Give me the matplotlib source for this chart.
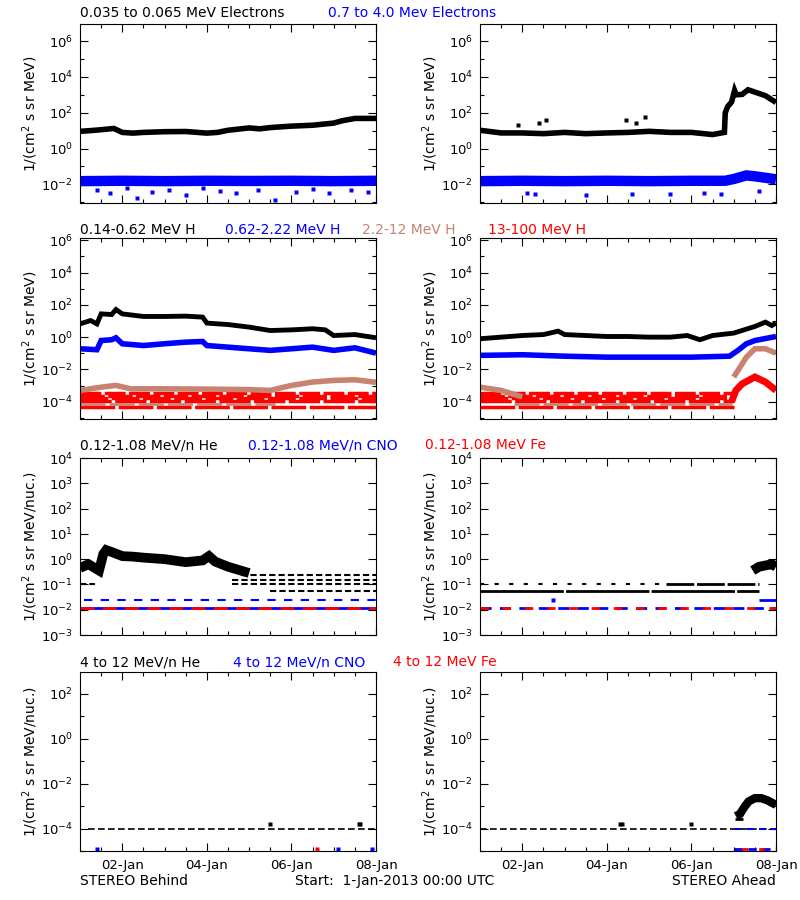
import numpy as np
import matplotlib.pyplot as plt

TAN = '#C88270'

# ---- axis / label text -------------------------------------------------
day_ticks = [1, 3, 5, 7]
day_labels = ['02-Jan', '04-Jan', '06-Jan', '08-Jan']
ylab_mev = '1/(cm$^{2}$ s sr MeV)'
ylab_nuc = '1/(cm$^{2}$ s sr MeV/nuc.)'

# ---- data (time in days since 1-Jan-2013 00:00, values as log10 flux) ----
# row 1 : electrons
e_lo_B_t = [0, 0.25, 0.5, 0.8, 1.0, 1.25, 1.5, 2, 2.5, 3, 3.25, 3.5, 4, 4.25, 4.5, 5, 5.5, 6, 6.2, 6.5, 7]
e_lo_B_v = [0.96, 1.0, 1.05, 1.12, 0.9, 0.86, 0.9, 0.94, 0.95, 0.86, 0.9, 1.02, 1.15, 1.1, 1.17, 1.25, 1.3, 1.42, 1.55, 1.68, 1.68]
e_hi_B_t = [0, 1, 2, 3, 4, 5, 6, 7]
e_hi_B_v = [-1.82, -1.8, -1.82, -1.8, -1.81, -1.8, -1.82, -1.8]
e_hi_B_out_t = [0.4, 0.7, 1.1, 1.35, 1.7, 2.1, 2.5, 2.9, 3.3, 3.7, 4.2, 4.6, 5.1, 5.5, 5.9, 6.4, 6.8]
e_hi_B_out_v = [-2.3, -2.5, -2.2, -2.75, -2.4, -2.3, -2.6, -2.2, -2.35, -2.5, -2.3, -2.85, -2.4, -2.25, -2.5, -2.3, -2.45]

e_lo_A_t = [0, 0.5, 1, 1.5, 2, 2.5, 3, 3.5, 4, 4.5, 5, 5.5, 5.78, 5.80, 5.86, 5.95, 6.02, 6.06, 6.2, 6.34, 6.5, 6.75, 7.0]
e_lo_A_v = [1.02, 0.87, 0.87, 0.83, 0.9, 0.83, 0.87, 0.9, 0.96, 0.9, 0.9, 0.78, 0.9, 2.0, 2.35, 2.6, 3.24, 3.0, 3.02, 3.28, 3.15, 2.95, 2.57]
e_lo_A_out_t = [0.9, 1.4, 1.55, 3.45, 3.7, 3.9]
e_lo_A_out_v = [1.3, 1.45, 1.6, 1.6, 1.45, 1.75]
e_hi_A_t = [0, 1, 2, 3, 4, 5, 5.8, 6.0, 6.3, 6.5, 6.8, 7]
e_hi_A_v = [-1.82, -1.8, -1.82, -1.8, -1.82, -1.8, -1.8, -1.7, -1.5, -1.55, -1.65, -1.72]
e_hi_A_out_t = [1.1, 1.3, 2.5, 3.6, 4.5, 5.3, 5.7, 6.6]
e_hi_A_out_v = [-2.5, -2.55, -2.6, -2.55, -2.55, -2.5, -2.55, -2.35]

# row 2 : protons
h1_B_t = [0, 0.25, 0.4, 0.5, 0.75, 0.85, 1.0, 1.5, 2, 2.5, 2.9, 3.0, 3.5, 4, 4.5, 5, 5.5, 5.8, 6.0, 6.5, 7]
h1_B_v = [0.82, 1.03, 0.82, 1.44, 1.4, 1.71, 1.44, 1.28, 1.28, 1.3, 1.24, 0.87, 0.78, 0.62, 0.41, 0.45, 0.52, 0.45, 0.1, 0.16, -0.04]
h2_B_t = [0, 0.4, 0.5, 0.75, 0.85, 1.0, 1.5, 2, 2.5, 2.9, 3.0, 3.5, 4, 4.5, 5, 5.5, 6, 6.5, 7]
h2_B_v = [-0.72, -0.78, -0.21, -0.16, -0.04, -0.41, -0.52, -0.41, -0.31, -0.27, -0.52, -0.62, -0.72, -0.82, -0.72, -0.62, -0.82, -0.66, -0.99]
h3_B_t = [0, 0.5, 0.85, 1.2, 2, 3, 4, 4.5, 5, 5.5, 6, 6.5, 7]
h3_B_v = [-3.3, -3.1, -2.99, -3.2, -3.2, -3.22, -3.25, -3.3, -2.99, -2.78, -2.68, -2.64, -2.8]
h2_A_t = [0, 1, 2, 3, 4, 5, 5.9, 6.1, 6.3, 6.5, 7]
h2_A_v = [-1.13, -1.09, -1.18, -1.24, -1.24, -1.24, -1.18, -0.82, -0.41, -0.21, 0.04]
h1_A_t = [0, 0.5, 1, 1.5, 1.85, 2, 2.5, 3, 3.5, 4, 4.5, 4.9, 5.2, 5.5, 6, 6.5, 6.75, 6.9, 7]
h1_A_v = [-0.1, 0.0, 0.1, 0.16, 0.37, 0.16, 0.1, 0.04, 0.04, 0.0, 0.0, 0.1, -0.16, 0.1, 0.25, 0.66, 0.93, 0.72, 0.87]
h3_A_t = [0, 0.5, 1.0, 6.0, 6.05, 6.15, 6.3, 6.5, 6.75, 7]
h3_A_v = [-3.1, -3.3, -3.7, -2.47, -2.27, -1.86, -1.24, -0.72, -0.72, -0.99]
h4_A_t = [5.95, 6.05, 6.2, 6.5, 6.75, 7]
h4_A_v = [-4.0, -3.3, -2.89, -2.47, -2.78, -3.3]
# count-quantised background levels (log10) with start/end days
h4_levels = [-3.45, -3.62, -3.8, -3.97, -4.32]
h3_low_level = -4.13
h_B_end = 7.0
h_A_end = 6.0

# row 3 : 0.12-1.08 MeV/n heavy ions
he_B_t = [0, 0.2, 0.35, 0.45, 0.55, 0.62, 0.8, 1.0, 1.25, 1.5, 2, 2.5, 2.9, 3.05, 3.2, 3.5, 3.8, 4.0]
he_B_v = [-0.35, -0.2, -0.35, -0.45, 0.2, 0.36, 0.25, 0.12, 0.1, 0.06, 0.0, -0.12, -0.05, 0.12, -0.1, -0.3, -0.45, -0.55]
he_B_lv = [-0.62, -0.82, -0.97, -1.26]
he_B_lv_t0 = [3.8, 3.6, 3.6, 4.5]
he_A_lv = [-0.97, -1.26]
he_A_burst_t = [6.45, 6.6, 6.75, 6.9, 7.0]
he_A_burst_v = [-0.45, -0.3, -0.25, -0.2, -0.3]
cno_lv = [-1.62, -1.95]
fe_lv = -1.95

# row 4 : 4-12 MeV/n heavy ions
hi_floor = -4.0
hi_bottom = -4.9
hi_B_pts_t = [4.5, 6.6, 6.62]
hi_B_pts_v = [-3.8, -3.8, -3.8]
hi_B_low_t = [0.4, 6.1, 6.9]
hi_B_red_t = [5.6]
hi_A_t = [6.05, 6.15, 6.25, 6.35, 6.5, 6.65, 6.8, 7.0]
hi_A_v = [-3.45, -3.35, -3.05, -2.8, -2.65, -2.65, -2.75, -2.95]
hi_A_pts_t = [3.3, 3.35, 5.0]
hi_A_pts_v = [-3.8, -3.8, -3.8]


def f(v):
    return 10.0 ** np.asarray(v, dtype=float)


def setup(ax, ylo, yhi, major, minor, show_x):
    ax.set_yscale('log')
    ax.set_xlim(0, 7)
    ax.set_ylim(10.0 ** ylo, 10.0 ** yhi)
    ax.set_yticks(f(major))
    ax.set_yticklabels(['$10^{%d}$' % e for e in major])
    ax.set_yticks(f(minor), minor=True)
    ax.set_yticklabels([], minor=True)
    ax.set_xticks(day_ticks)
    ax.set_xticks(np.arange(0.5, 7, 0.5), minor=True)
    if show_x:
        ax.set_xticklabels(day_labels)
    else:
        ax.set_xticklabels([])
    ax.tick_params(which='both', direction='in', top=True, right=True, labelsize=9.5)
    ax.tick_params(axis='y', pad=5)
    ax.tick_params(axis='x', pad=6)
    ax.tick_params(which='major', length=6, width=0.8)
    ax.tick_params(which='minor', length=3, width=0.8)
    for s in ax.spines.values():
        s.set_linewidth(0.8)


def band(ax, t, v, c, lw):
    ax.plot(t, f(v), color=c, lw=lw, solid_capstyle='butt', solid_joinstyle='miter')


def level(ax, lv, t0, t1, c, lw=2.0, dash=(7, 1.5)):
    ax.plot([t0, t1], [10.0 ** lv, 10.0 ** lv], color=c, lw=lw, ls=(0, dash))


def dots(ax, t, v, c, ms=2.5):
    ax.plot(t, f(v), ls='none', marker='s', ms=ms, mec='none', color=c)


fig = plt.figure(figsize=(8, 9), dpi=100)
W, H = 800.0, 900.0
rows_px = [(24, 203), (238, 419), (458, 635), (672, 851)]
cols_px = [80, 480]
pw = 296

axes = []
for r, (top, bot) in enumerate(rows_px):
    row = []
    for c in cols_px:
        row.append(fig.add_axes([c / W, 1 - bot / H, pw / W, (bot - top) / H]))
    axes.append(row)

# ---- row 1 -------------------------------------------------------------
for ax in axes[0]:
    setup(ax, -3.04, 6.95, [-2, 0, 2, 4, 6], [-3, -1, 1, 3, 5], False)
ax = axes[0][0]
band(ax, e_hi_B_t, e_hi_B_v, 'blue', 7.5)
dots(ax, e_hi_B_out_t, e_hi_B_out_v, 'blue')
band(ax, e_lo_B_t, e_lo_B_v, 'black', 4)
ax = axes[0][1]
band(ax, e_hi_A_t, e_hi_A_v, 'blue', 7.5)
dots(ax, e_hi_A_out_t, e_hi_A_out_v, 'blue')
band(ax, e_lo_A_t, e_lo_A_v, 'black', 4)
dots(ax, e_lo_A_out_t, e_lo_A_out_v, 'black')

# ---- row 2 -------------------------------------------------------------
for ax in axes[1]:
    setup(ax, -5.07, 6.14, [-4, -2, 0, 2, 4, 6], [-5, -3, -1, 1, 3, 5], False)
ax = axes[1][0]
for i, lv in enumerate(h4_levels):
    level(ax, lv, 0, h_B_end, 'red', 2.5, (6 + i, 1))
level(ax, h3_low_level, 0, 4.6, TAN, 2.0, (9, 1.5))
band(ax, h3_B_t, h3_B_v, TAN, 4)
band(ax, h2_B_t, h2_B_v, 'blue', 4)
band(ax, h1_B_t, h1_B_v, 'black', 3.5)
ax = axes[1][1]
for i, lv in enumerate(h4_levels):
    level(ax, lv, 0, h_A_end, 'red', 2.5, (6 + i, 1))
level(ax, h3_low_level, 0.8, 5.95, TAN, 2.0, (9, 1.5))
band(ax, h3_A_t[:3], h3_A_v[:3], TAN, 4)
band(ax, h3_A_t[3:], h3_A_v[3:], TAN, 4)
band(ax, h4_A_t, h4_A_v, 'red', 5)
band(ax, h2_A_t, h2_A_v, 'blue', 4)
band(ax, h1_A_t, h1_A_v, 'black', 3.5)

# ---- row 3 -------------------------------------------------------------
for ax in axes[2]:
    setup(ax, -3.0, 3.92, [-3, -2, -1, 0, 1, 2, 3, 4], [], False)
ax = axes[2][0]
level(ax, cno_lv[1], 0, 7, 'blue', 2.0, (20, 0.1))
level(ax, fe_lv, 0, 7, 'red', 2.0, (5, 3))
level(ax, cno_lv[0], 0.1, 7, 'blue', 1.5, (4, 4))
for lv, t0 in zip(he_B_lv, he_B_lv_t0):
    level(ax, lv, t0, 7, 'black', 1.5, (3, 1.5))
level(ax, -0.97, 0, 0.35, 'black', 1.5, (3, 1.5))
band(ax, he_B_t, he_B_v, 'black', 7)
ax = axes[2][1]
level(ax, cno_lv[1], 0, 7, 'blue', 2.0, (4, 3))
level(ax, fe_lv, 0, 7, 'red', 2.0, (3, 5))
level(ax, cno_lv[0], 6.6, 7, 'blue', 2.0, (20, 0.1))
dots(ax, [1.72], [cno_lv[0]], 'blue')
level(ax, he_A_lv[1], 0, 6.6, 'black', 2.0, (30, 0.8))
level(ax, he_A_lv[0], 0, 4.4, 'black', 1.5, (2, 5))
level(ax, he_A_lv[0], 4.4, 6.6, 'black', 2.0, (10, 1))
band(ax, he_A_burst_t, he_A_burst_v, 'black', 7)

# ---- row 4 -------------------------------------------------------------
for ax in axes[3]:
    setup(ax, -5.0, 2.96, [-4, -2, 0, 2], [-5, -3, -1, 1], True)
ax = axes[3][0]
level(ax, hi_floor, 0.2, 7, 'black', 1.2, (4, 2))
dots(ax, hi_B_pts_t, hi_B_pts_v, 'black', 3)
dots(ax, hi_B_low_t, [hi_bottom] * len(hi_B_low_t), 'blue')
dots(ax, hi_B_red_t, [hi_bottom] * len(hi_B_red_t), 'red')
ax = axes[3][1]
level(ax, hi_floor, 0, 7, 'black', 1.2, (4, 2))
level(ax, hi_floor, 6.0, 7, 'blue', 1.5, (3, 3))
level(ax, hi_bottom, 6.0, 7, 'blue', 2.0, (3, 2))
level(ax, hi_bottom, 6.2, 7, 'red', 2.0, (2, 4))
dots(ax, hi_A_pts_t, hi_A_pts_v, 'black', 3)
band(ax, hi_A_t, hi_A_v, 'black', 6)
level(ax, -3.56, 6.02, 6.22, 'black', 2.0, (20, 0.1))

# ---- y labels ----------------------------------------------------------
for r, (top, bot) in enumerate(rows_px):
    lab = ylab_mev if r < 2 else ylab_nuc
    for c in cols_px:
        fig.text((c - 50) / W, 1 - (top + bot) / 2 / H, lab, rotation=90,
                 ha='center', va='center', fontsize=10)

# ---- row titles --------------------------------------------------------
titles = [
    (17, [(80, '0.035 to 0.065 MeV Electrons', 'black'), (328, '0.7 to 4.0 Mev Electrons', 'blue')]),
    (234, [(80, '0.14-0.62 MeV H', 'black'), (225, '0.62-2.22 MeV H', 'blue'),
           (362, '2.2-12 MeV H', TAN), (488, '13-100 MeV H', 'red')]),
    (449, [(80, '0.12-1.08 MeV/n He', 'black'), (248, '0.12-1.08 MeV/n CNO', 'blue'),
           (425, '0.12-1.08 MeV Fe', 'red')]),
    (666, [(80, '4 to 12 MeV/n He', 'black'), (233, '4 to 12 MeV/n CNO', 'blue'),
           (393, '4 to 12 MeV Fe', 'red')]),
]
for y, items in titles:
    for x, txt, col in items:
        fig.text(x / W, 1 - y / H, txt, color=col, fontsize=10, ha='left', va='baseline')

fig.text(80 / W, 1 - 885 / H, 'STEREO Behind', fontsize=10, va='baseline')
fig.text(295 / W, 1 - 885 / H, 'Start:  1-Jan-2013 00:00 UTC', fontsize=10, va='baseline')
fig.text(776 / W, 1 - 885 / H, 'STEREO Ahead', fontsize=10, va='baseline', ha='right')

fig.savefig('out.png', dpi=100, facecolor='white')
